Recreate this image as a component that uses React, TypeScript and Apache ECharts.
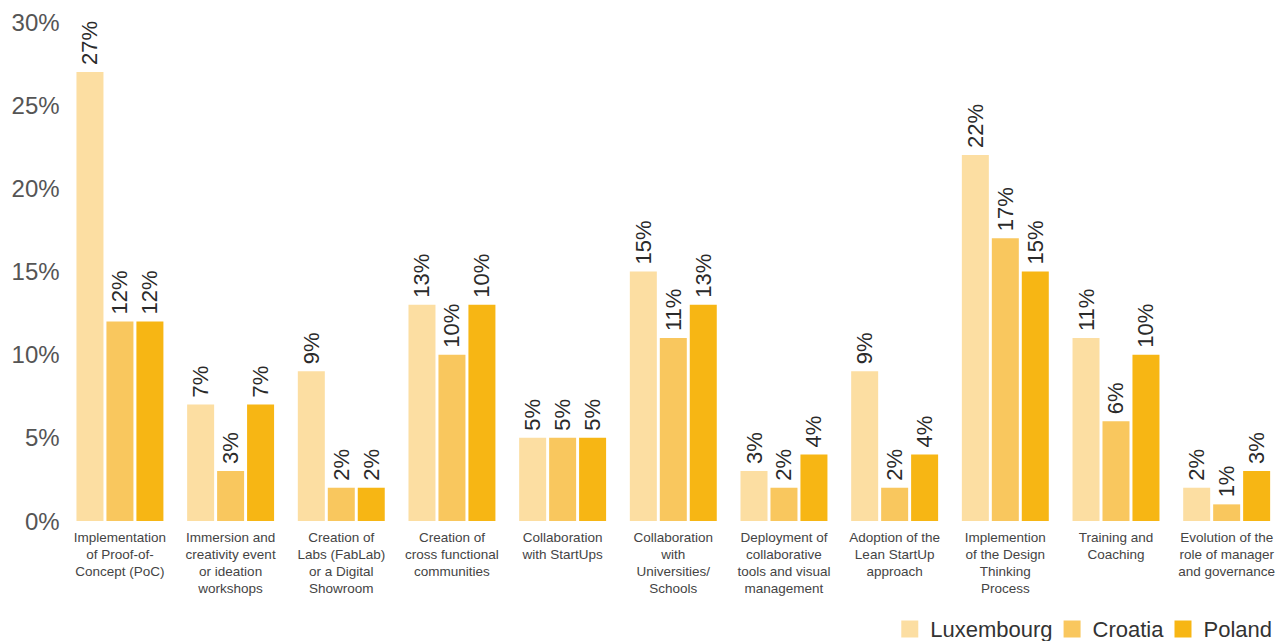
import React, { useEffect, useRef } from "react";
import * as echarts from "echarts";

const categories = [
  "Implementation\nof Proof-of-\nConcept (PoC)",
  "Immersion and\ncreativity event\nor ideation\nworkshops",
  "Creation of\nLabs (FabLab)\nor a Digital\nShowroom",
  "Creation of\ncross functional\ncommunities",
  "Collaboration\nwith StartUps",
  "Collaboration\nwith\nUniversities/\nSchools",
  "Deployment of\ncollaborative\ntools and visual\nmanagement",
  "Adoption of the\nLean StartUp\napproach",
  "Implemention\nof the Design\nThinking\nProcess",
  "Training and\nCoaching",
  "Evolution of the\nrole of manager\nand governance",
];

const seriesNames = ["Luxembourg", "Croatia", "Poland"];

const luxembourg = [27, 7, 9, 13, 5, 15, 3, 9, 22, 11, 2];
const croatia = [12, 3, 2, 10, 5, 11, 2, 2, 17, 6, 1];
const poland = [12, 7, 2, 13, 5, 13, 4, 4, 15, 10, 3];

// printed labels (one printed label differs from its bar in the source)
const luxembourgLabels = [27, 7, 9, 13, 5, 15, 3, 9, 22, 11, 2];
const croatiaLabels = [12, 3, 2, 10, 5, 11, 2, 2, 17, 6, 1];
const polandLabels = [12, 7, 2, 10, 5, 13, 4, 4, 15, 10, 3];

const yTicks = [0, 5, 10, 15, 20, 25, 30];

const colors = ["#FCDEA2", "#F9C75E", "#F7B614"];
const FONT = "'Liberation Sans', Arial, Helvetica, sans-serif";

export default function App() {
  const ref = useRef<HTMLDivElement>(null);

  useEffect(() => {
    document.body.style.margin = "0";
    if (!ref.current) return;
    const chart = echarts.init(ref.current, undefined, { renderer: "svg" });
    const values = [luxembourg, croatia, poland];
    const labels = [luxembourgLabels, croatiaLabels, polandLabels];

    chart.setOption({
      animation: false,
      color: colors,
      textStyle: { fontFamily: FONT },
      grid: { left: 64.6, right: 4, top: 22, bottom: 120, containLabel: false },
      legend: {
        data: seriesNames,
        right: 9,
        top: 612,
        icon: "rect",
        itemWidth: 17,
        itemHeight: 17,
        itemGap: 11,
        textStyle: {
          fontSize: 22,
          lineHeight: 24,
          color: "#333",
          fontFamily: FONT,
          padding: [0, 0, 0, 7],
        },
      },
      xAxis: {
        type: "category",
        data: categories,
        axisLine: { show: false },
        axisTick: { show: false },
        axisLabel: {
          interval: 0,
          margin: 8,
          fontSize: 13.5,
          lineHeight: 17,
          color: "#444",
          fontFamily: FONT,
          align: "center",
        },
      },
      yAxis: {
        type: "value",
        min: yTicks[0],
        max: yTicks[yTicks.length - 1],
        interval: 5,
        axisLine: { show: false },
        axisTick: { show: false },
        splitLine: { show: false },
        axisLabel: {
          formatter: "{value}%",
          fontSize: 24,
          color: "#555",
          margin: 5,
          fontFamily: FONT,
        },
      },
      series: seriesNames.map((name, i) => ({
        name,
        type: "bar",
        data: values[i],
        barWidth: 27,
        barGap: "11%",
        itemStyle: { color: colors[i] },
        label: {
          show: true,
          position: "top",
          rotate: 90,
          align: "left",
          verticalAlign: "middle",
          distance: 7,
          fontSize: 22,
          color: "#2a2a2a",
          fontFamily: FONT,
          formatter: (p: any) => labels[i][p.dataIndex] + "%",
        },
      })),
    });

    return () => chart.dispose();
  }, []);

  return <div ref={ref} style={{ width: 1286, height: 641 }} />;
}
